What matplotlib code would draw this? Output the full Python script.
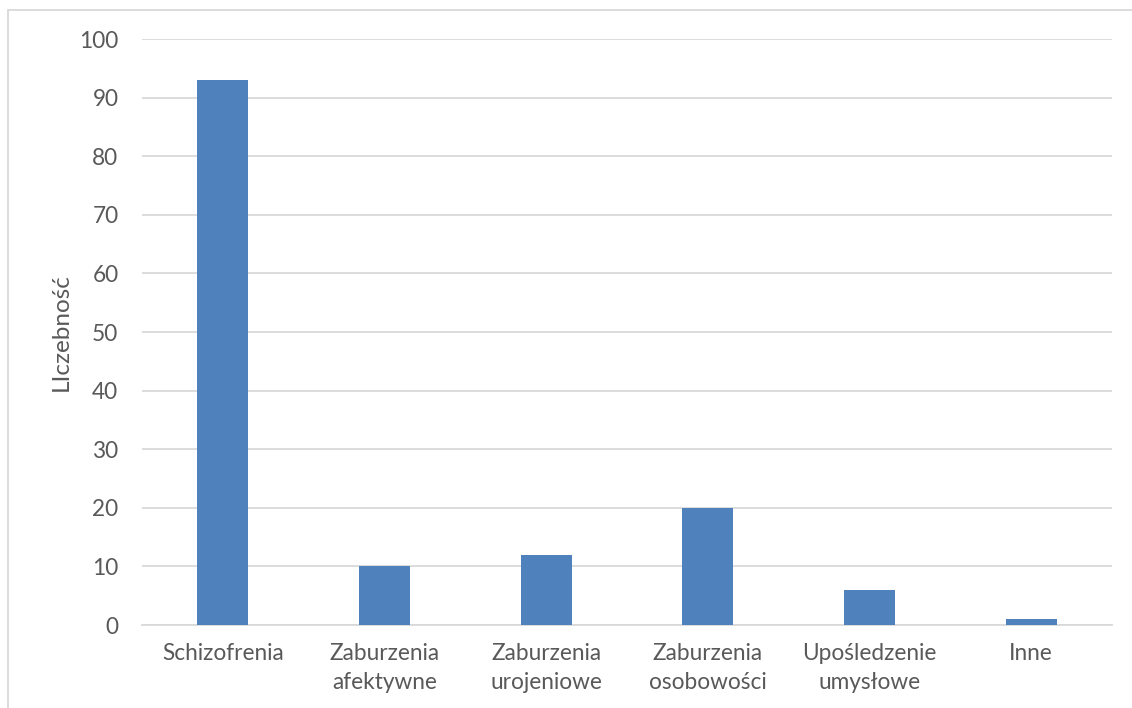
import matplotlib
matplotlib.use("Agg")
import matplotlib.pyplot as plt
from matplotlib.patches import Rectangle

categories = ["Schizofrenia", "Zaburzenia\nafektywne", "Zaburzenia\nurojeniowe",
              "Zaburzenia\nosobowości", "Upośledzenie\numysłowe", "Inne"]
counts = [93, 10, 12, 20, 6, 1]
yticks = [0, 10, 20, 30, 40, 50, 60, 70, 80, 90, 100]

text_color = "#595959"
grid_color = "#d9d9d9"
bar_color = "#4f81bd"

plt.rcParams["font.family"] = ["Lato", "DejaVu Sans"]

W, H = 1132, 708
fig = plt.figure(figsize=(W / 100, H / 100), dpi=100)
ax = fig.add_axes([142 / W, 1 - 625 / H, (1112 - 142) / W, (625 - 39) / H])

x = list(range(len(categories)))
ax.bar(x, counts, width=0.315, color=bar_color, zorder=3)

ax.set_xlim(-0.5, len(categories) - 0.5)
ax.set_ylim(0, 100)
ax.set_yticks(yticks)
ax.set_yticklabels([str(v) for v in yticks])
ax.set_xticks(x)
ax.set_xticklabels(categories, linespacing=1.45)

ax.grid(axis="y", color=grid_color, linewidth=1.3, zorder=0)
for s in ["top", "right", "left"]:
    ax.spines[s].set_visible(False)
ax.spines["bottom"].set_color(grid_color)
ax.spines["bottom"].set_linewidth(1.3)
ax.tick_params(axis="both", length=0, labelsize=16.3, colors=text_color)
ax.tick_params(axis="y", pad=17)
ax.tick_params(axis="x", pad=13)

ax.set_ylabel("LIczebność", fontsize=17.5, color=text_color)
ax.yaxis.set_label_coords((72 - 142) / (1112 - 142), 0.5)

# chart area frame
fig.patches.append(Rectangle((8 / W, -0.1), 1.2, 1 - 10 / H + 0.1,
                             transform=fig.transFigure, fill=False,
                             edgecolor="#d9d9d9", linewidth=1.3))

fig.savefig("out.png", dpi=100)
